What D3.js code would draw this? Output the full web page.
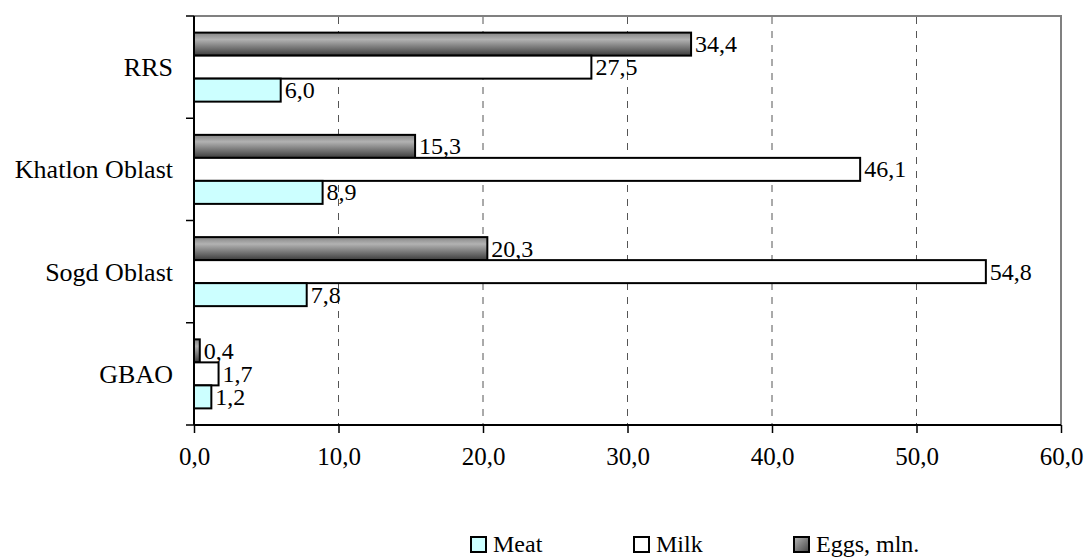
<!DOCTYPE html>
<html><head><meta charset="utf-8">
<script src="https://cdn.jsdelivr.net/npm/d3@7"></script>
<style>body{margin:0;background:#fff}svg{display:block}svg text{font-family:'Liberation Serif','Times New Roman','DejaVu Serif',serif !important;fill:#000}</style>
</head><body><svg id="c" width="1087" height="557" font-family="Liberation Serif"></svg>
<script>
const categories = ["RRS", "Khatlon Oblast", "Sogd Oblast", "GBAO"];
const seriesNames = ["Eggs, mln.", "Milk", "Meat"];
const legendOrder = ["Meat", "Milk", "Eggs, mln."];
const meat = [6.0, 8.9, 7.8, 1.2];
const milk = [27.5, 46.1, 54.8, 1.7];
const eggs = [34.4, 15.3, 20.3, 0.4];
const xTicks = [0, 10, 20, 30, 40, 50, 60];

const seriesValues = {"Meat": meat, "Milk": milk, "Eggs, mln.": eggs};
const fills = {"Meat": "#ccffff", "Milk": "#ffffff", "Eggs, mln.": "url(#eggGrad)"};
const FONT = "Liberation Serif, Times New Roman, serif";

const svg = d3.select("#c");
const L = 194, R = 1061, T = 16, B = 425;
const x = d3.scaleLinear().domain([0, 60]).range([L, R]);
const y = d3.scaleBand().domain(categories).range([T, B]).paddingInner(0.325).paddingOuter(0.1625);
const ys = d3.scaleBand().domain(seriesNames).range([0, y.bandwidth()]).padding(0);
const loc = d3.formatLocale({decimal: ",", thousands: " ", grouping: [3], currency: ["", ""]});
const fmt = loc.format(".1f");

const defs = svg.append("defs");
const g1 = defs.append("linearGradient").attr("id", "eggGrad").attr("x1", 0).attr("y1", 0).attr("x2", 0).attr("y2", 1);
g1.append("stop").attr("offset", "0%").attr("stop-color", "#858585");
g1.append("stop").attr("offset", "30%").attr("stop-color", "#b2b2b2");
g1.append("stop").attr("offset", "100%").attr("stop-color", "#3c3c3c");
const g2 = defs.append("linearGradient").attr("id", "eggGradL").attr("x1", 0).attr("y1", 0).attr("x2", 1).attr("y2", 1);
g2.append("stop").attr("offset", "0%").attr("stop-color", "#b8b8b8");
g2.append("stop").attr("offset", "100%").attr("stop-color", "#444");

// plot border (gray top/right)
svg.append("path").attr("d", `M${L},${T}H${R}V${B}`).attr("fill", "none").attr("stroke", "#808080").attr("stroke-width", 2);

// gridlines
svg.append("g").selectAll("line").data(xTicks.filter(t => t > 0 && t < 60)).join("line")
  .attr("x1", d => x(d)).attr("x2", d => x(d)).attr("y1", T + 1).attr("y2", B)
  .attr("stroke", "#555").attr("stroke-width", 1).attr("stroke-dasharray", "7,7");

// bars
const groups = svg.append("g").selectAll("g").data(categories).join("g")
  .attr("transform", d => `translate(0,${y(d)})`);
groups.each(function(cat, i) {
  const g = d3.select(this);
  seriesNames.forEach(s => {
    const v = seriesValues[s][i];
    g.append("rect").attr("x", x(0)).attr("y", ys(s)).attr("width", x(v) - x(0)).attr("height", ys.bandwidth())
      .attr("fill", fills[s]).attr("stroke", "#000").attr("stroke-width", 2);
    g.append("text").attr("x", x(v) + 4).attr("y", ys(s) + ys.bandwidth() / 2 + 8)
      .attr("font-family", FONT).attr("font-size", 24).text(fmt(v));
  });
});

// axes
const xAxis = d3.axisBottom(x).tickValues(xTicks).tickSize(8).tickPadding(14).tickFormat(fmt);
const gx = svg.append("g").attr("transform", `translate(0,${B})`).call(xAxis).attr("font-family", FONT);
gx.select(".domain").attr("stroke", "#000").attr("stroke-width", 2).attr("d", `M${L},0H${R}`);
gx.selectAll(".tick line").attr("stroke", "#000").attr("stroke-width", 1.5);
gx.selectAll(".tick text").attr("font-size", 25).attr("font-family", FONT).attr("fill", "#000");

const step = y.step();
const bounds = d3.range(categories.length + 1).map(i => T + i * step);
svg.append("g").selectAll("line").data(bounds).join("line")
  .attr("x1", L - 8).attr("x2", L).attr("y1", d => d).attr("y2", d => d)
  .attr("stroke", "#000").attr("stroke-width", 1.5);
svg.append("line").attr("x1", L).attr("x2", L).attr("y1", T).attr("y2", B).attr("stroke", "#000").attr("stroke-width", 2);
svg.append("g").selectAll("text").data(categories).join("text")
  .attr("x", 173).attr("y", d => y(d) + y.bandwidth() / 2 + 9)
  .attr("text-anchor", "end").attr("font-family", FONT).attr("font-size", 26).text(d => d);

// legend
const legX = {"Meat": 471, "Milk": 634, "Eggs, mln.": 794};
const lg = svg.append("g").selectAll("g").data(legendOrder).join("g")
  .attr("transform", d => `translate(${legX[d]},537)`);
lg.append("rect").attr("width", 15).attr("height", 15)
  .attr("fill", d => d === "Eggs, mln." ? "url(#eggGradL)" : fills[d]).attr("stroke", "#000").attr("stroke-width", 2);
lg.append("text").attr("x", 22).attr("y", 15).attr("font-family", FONT).attr("font-size", 24).text(d => d);
</script></body></html>
